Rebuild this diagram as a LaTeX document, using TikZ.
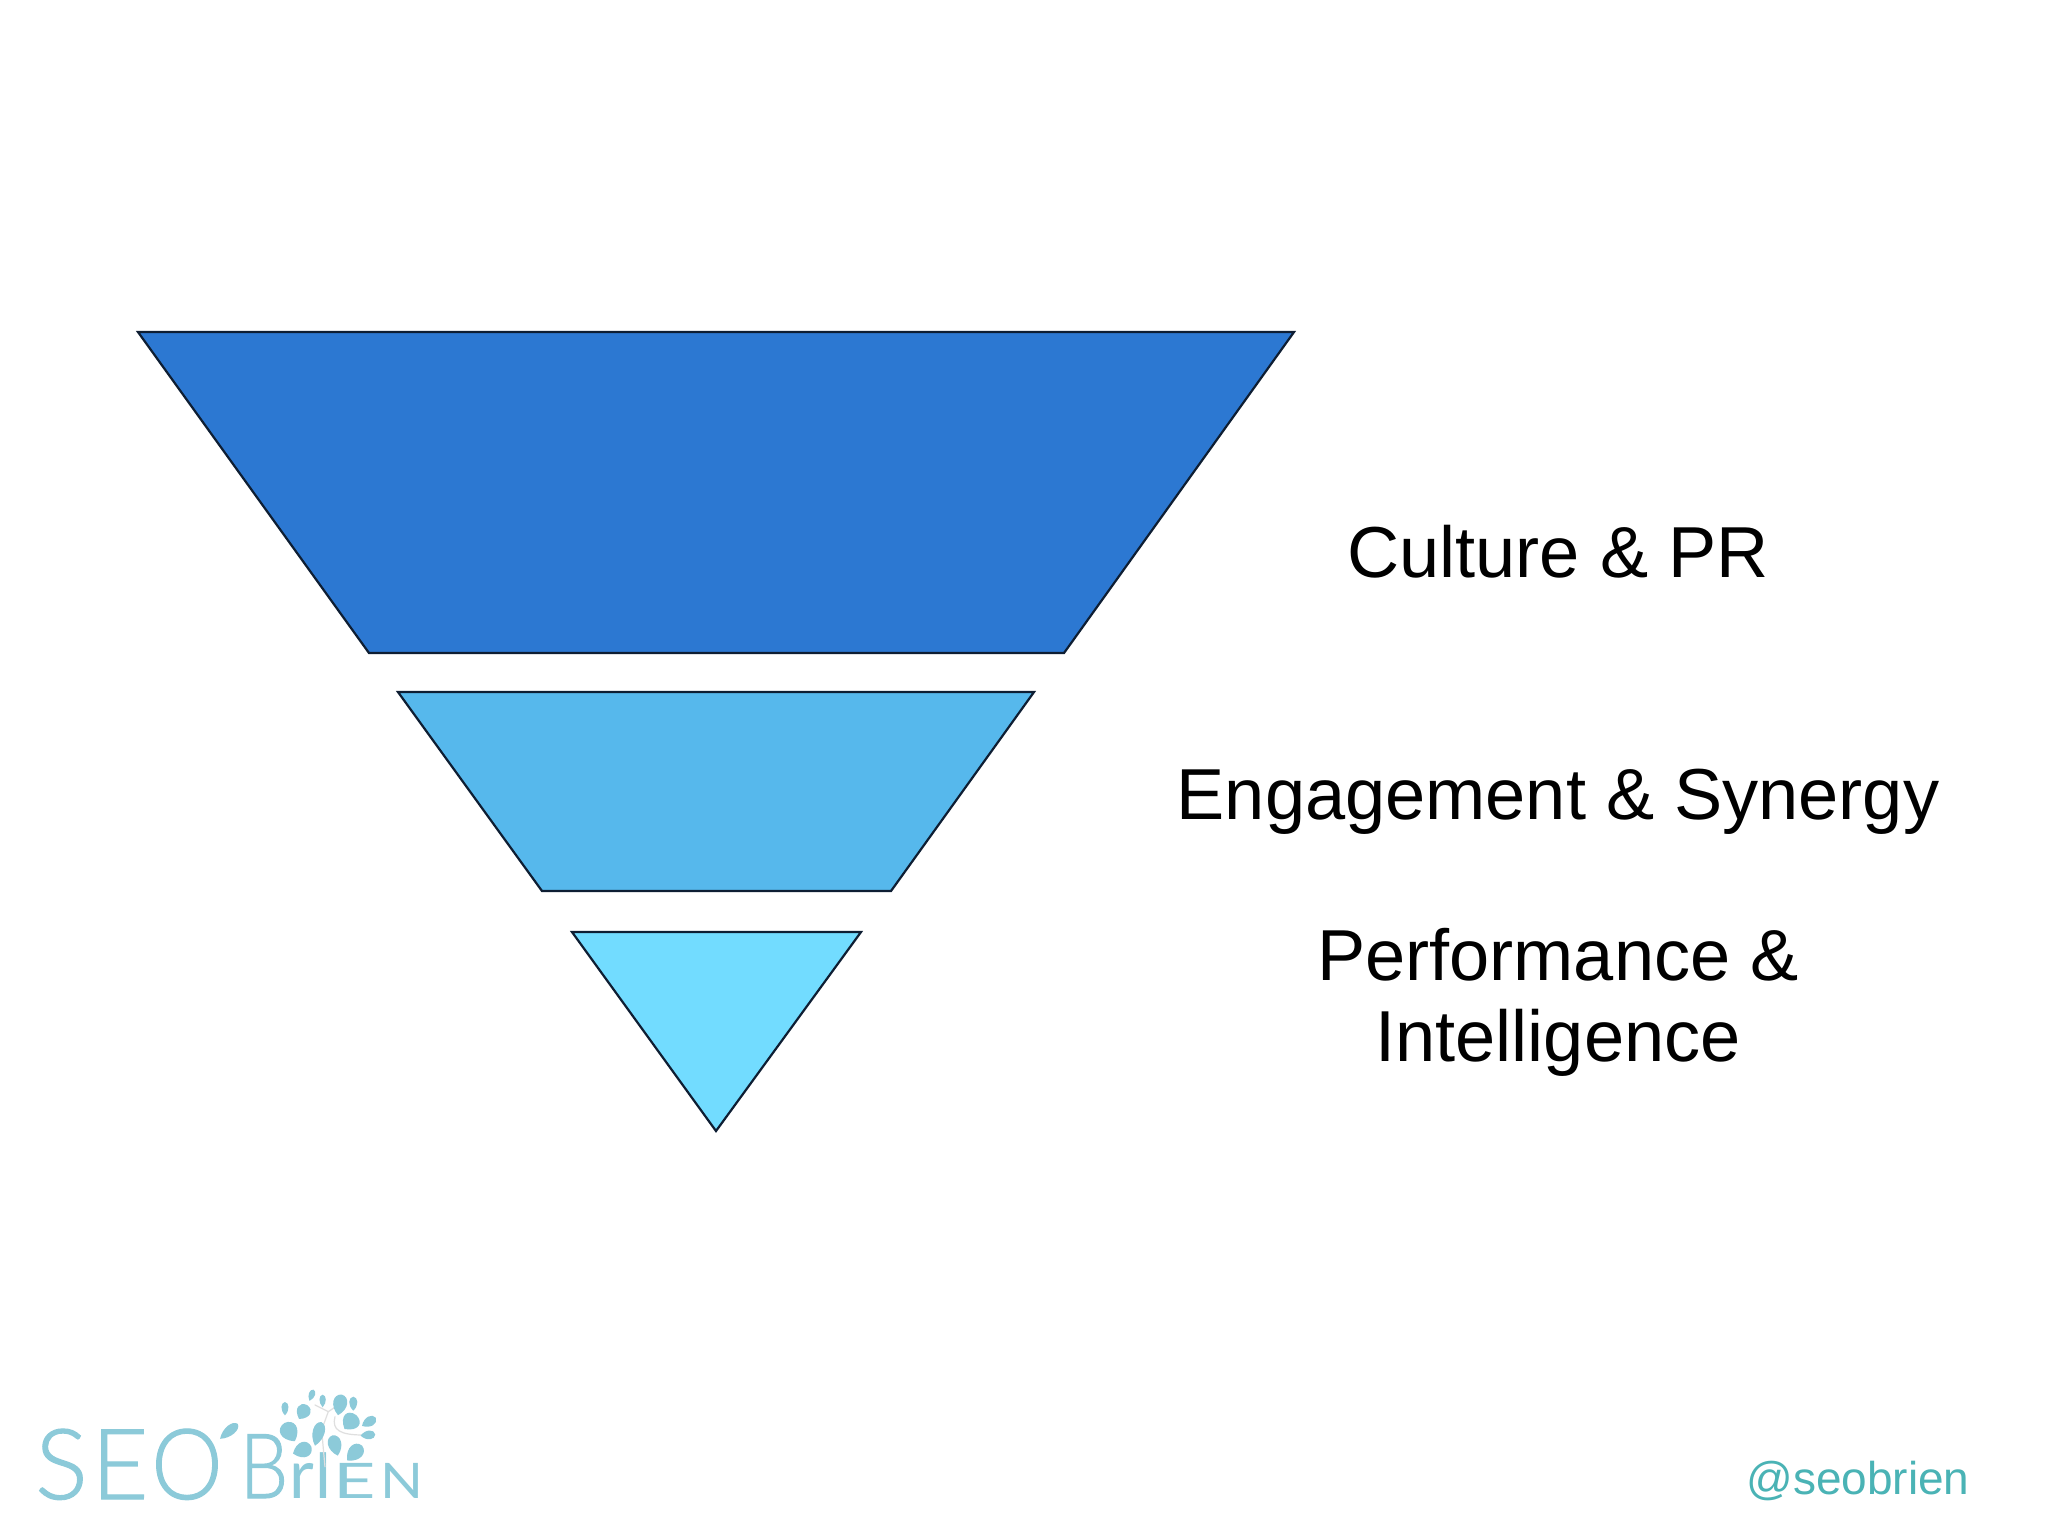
\documentclass[tikz,border=0pt]{standalone}
\usepackage{fontspec}
\setmainfont{Liberation Sans}
\newfontfamily\logofont[FakeBold=1.2]{Lato Light}
\newfontfamily\logosmall{Lato}
\definecolor{tierA}{HTML}{2C78D2}
\definecolor{tierB}{HTML}{56B8EC}
\definecolor{tierC}{HTML}{72DCFF}
\definecolor{logoblue}{HTML}{8CCAD9}
\definecolor{handle}{HTML}{4AB3B5}
\definecolor{edge}{HTML}{0E1E33}
\tikzset{
  tier/.style={draw=edge,line width=2.2pt,line join=miter},
  label/.style={font=\fontsize{72.2}{81}\selectfont,text=black,inner sep=0pt,align=center},
  logoletter/.style={text=logoblue,inner sep=0pt,anchor=base},
}
\newcommand{\lglyph}[3]{{\logofont\fontsize{#1}{#1}\selectfont\scalebox{#2}[1]{#3}}}
\newcommand{\sglyph}[3]{{\logosmall\fontsize{#1}{#1}\selectfont\scalebox{#2}[1]{#3}}}
\begin{document}
\begin{tikzpicture}[x=1pt,y=-1pt]
\useasboundingbox (0,0) rectangle (2048,1535);
\fill[white] (0,0) rectangle (2048,1535);
\draw[tier,fill=tierA] (138,332) -- (1294,332) -- (1064,653) -- (369,653) -- cycle;
\draw[tier,fill=tierB] (398,692) -- (1034,692) -- (891,891) -- (542,891) -- cycle;
\draw[tier,fill=tierC] (572,932) -- (861,932) -- (716,1131) -- cycle;
\node[label,anchor=base] (culture) at (1558,577) {Culture \& PR};
\node[label,anchor=base] (engage) at (1558,819) {Engagement \& Synergy};
\node[label,anchor=center] (perf) at (1558,1002) {Performance \&\\Intelligence};
\node[anchor=base,inner sep=0pt,text=handle,font=\fontsize{46}{50}\selectfont] (handle) at (1858,1494) {@seobrien};
% logo wordmark
\node[logoletter] (ls) at (61.5,1499) {\lglyph{98}{1}{S}};
\node[logoletter] (le) at (120,1499) {\lglyph{98}{1}{E}};
\node[logoletter] (lo) at (187,1499) {\lglyph{98}{0.92}{O}};
\node[logoletter] (lb) at (264,1498) {\lglyph{90}{0.85}{B}};
\node[logoletter] (lr) at (302,1498) {\sglyph{68}{1}{r}};
\node[logoletter] (li) at (323,1498) {\sglyph{64}{1}{I}};
\node[logoletter] (ln) at (355,1498) {\sglyph{49}{1.5}{E}};
\node[logoletter] (lm) at (402,1498) {\sglyph{49}{1.15}{N}};
% tree
\begin{scope}[shift={(20,1370)},x=0.3333pt,y=-0.3333pt]
\draw[gray!25,line width=1.2pt,line cap=round]
  (915,290) -- (905,180) -- (925,125) -- (955,105)
  (925,125) -- (885,105)
  (945,140) .. controls (935,180) and (960,195) .. (1030,195);
\foreach \x/\y/\w/\h/\r in {
  628/183/28/66/-50, 795/115/20/38/0, 850/125/40/46/-30, 875/75/18/34/-20,
  908/92/18/36/0, 960/103/40/60/-10, 1000/100/23/40/0, 992/155/50/52/-40,
  1048/155/28/46/-60, 1045/195/25/42/-85, 808/185/50/60/30, 895/190/34/70/-15,
  945/225/38/60/15, 848/240/44/56/-70, 1005/248/42/60/-45}
  \path[fill=logoblue,shift={(\x,\y)},rotate=\r,x=\w*0.3333pt,y=\h*0.3333pt]
    (0,-0.55) .. controls (0.75,-0.15) and (0.65,0.45) .. (0,0.5)
    .. controls (-0.65,0.45) and (-0.75,-0.15) .. cycle;
\end{scope}
\end{tikzpicture}
\end{document}
